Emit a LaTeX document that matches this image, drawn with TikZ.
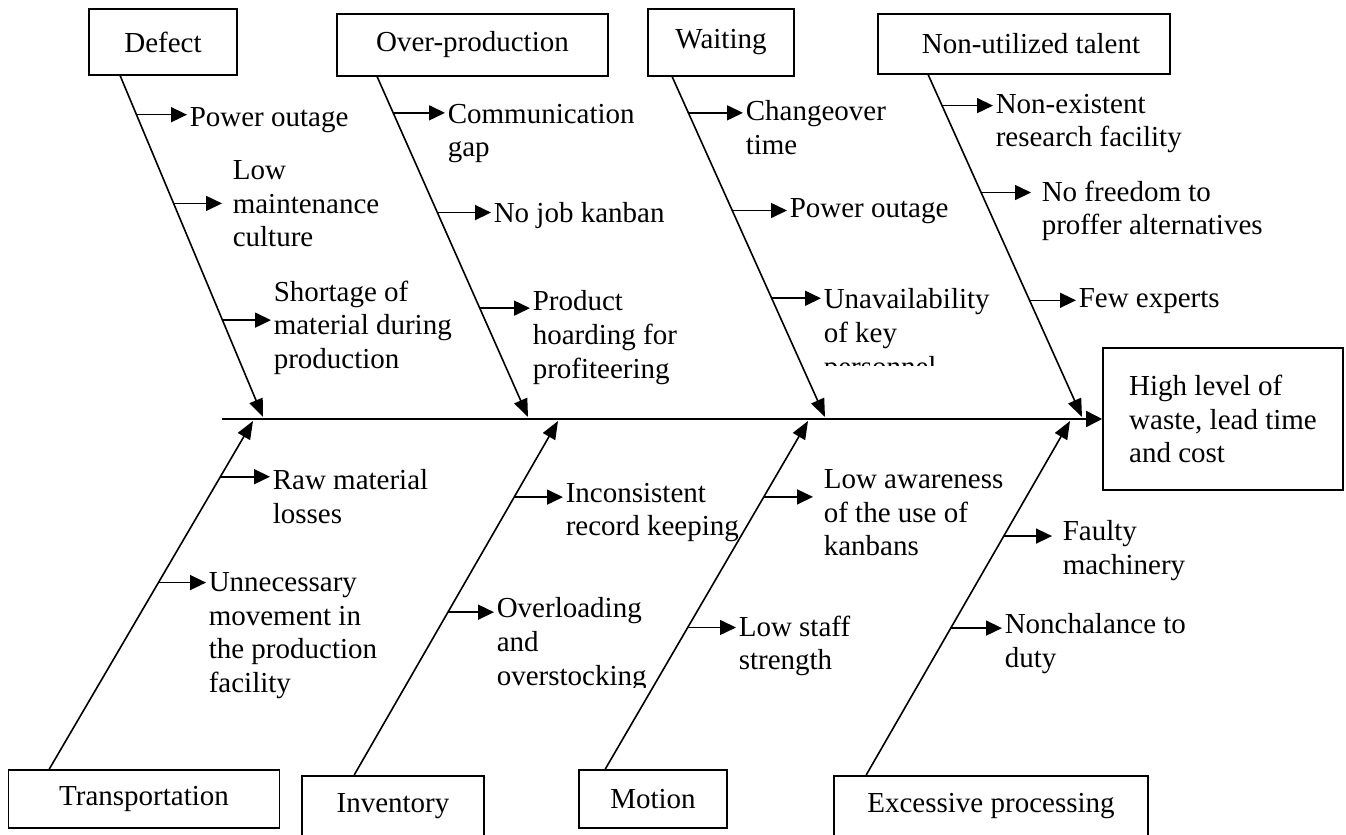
\documentclass[tikz,border=0pt]{standalone}
\usepackage{fontspec}
\setmainfont{Liberation Serif}
\usetikzlibrary{arrows.meta,calc}
\newcommand{\fishfont}{\fontsize{14.5}{16.8}\selectfont}

\begin{document}
\begin{tikzpicture}[x=0.5pt,y=-0.5pt,line width=0.8pt,>={Triangle[length=8pt,width=7.5pt]}]
	\clip (0,0) rectangle (1346,835);
	\begin{scope}
	\tikzstyle{every node}=[font=\fishfont]
	\tikzstyle{box}=[draw,inner sep=0pt]
	\tikzstyle{lab}=[anchor=north west,align=left,inner sep=1pt]
	\tikzstyle{bone}=[-{Triangle[length=9pt,width=7pt]}]
	% categories and effect
	\node[box,minimum width=74pt,minimum height=33pt] (Defect) at (163,42) {Defect};
	\node[box,minimum width=135.5pt,minimum height=31pt] (Over) at (472.5,45) {Over-production};
	\node[box,minimum width=73pt,minimum height=33.5pt] (Wait) at (721,42.5) {Waiting};
	\node[box,minimum width=146pt,minimum height=30pt] (Talent) at (1024,44) {\hspace{7pt}Non-utilized talent};
	\node[box,minimum width=120pt,minimum height=71pt,align=left] (Effect) at (1223,419) {High level of\\waste, lead time\\and cost};
	\node[box,minimum width=135.5pt,minimum height=29pt] (Trans) at (144,799) {Transportation};
	\node[box,minimum width=91pt,text height=18.5pt,text depth=22pt,anchor=north] (Inv) at (393,775) {Inventory};
	\node[box,minimum width=74pt,minimum height=29pt] (Motion) at (653,799) {Motion};
	\node[box,minimum width=157pt,text height=18.5pt,text depth=22pt,anchor=north] (Exc) at (991,775) {Excessive processing};
	% causes
	\node[lab] (D_1) at (187,105) {Power outage};
	\node[lab,inner xsep=5pt] (D_2) at (222,158) {Low\\maintenance\\culture};
	\node[lab] (D_3) at (271,278) {Shortage of\\material during\\production};
	\node[lab] (O_1) at (445,101) {Communication\\gap};
	\node[lab] (O_2) at (491,200) {No job kanban};
	\node[lab] (O_3) at (530,288) {Product\\hoarding for\\profiteering};
	\node[lab] (W_1) at (743,98) {Changeover\\time};
	\node[lab] (W_2) at (787,196) {Power outage};
	\begin{scope}
	\clip (700,250) rectangle (1000,365);
	\node[lab] (W_3) at (821,286) {Unavailability\\of key\\personnel};
	\end{scope}
	\node[lab] (N_1) at (993,91) {Non-existent\\research facility};
	\node[lab,inner xsep=5pt] (N_2) at (1031,178) {No freedom to\\proffer alternatives};
	\node[lab] (N_3) at (1076,286) {Few experts};
	\node[lab] (T_1) at (270,467) {Raw material\\losses};
	\node[lab] (T_2) at (206,570) {Unnecessary\\movement in\\the production\\facility};
	\node[lab] (I_1) at (563,480) {Inconsistent\\record keeping};
	\begin{scope}
	\clip (450,560) rectangle (700,687);
	\node[lab] (I_2) at (494,595) {Overloading\\and\\overstocking};
	\end{scope}
	\node[lab,inner xsep=5pt] (M_1) at (813,467) {Low awareness\\of the use of\\kanbans};
	\node[lab] (M_2) at (736,613) {Low staff\\strength};
	\node[lab,inner xsep=5pt] (E_1) at (1052,518) {Faulty\\machinery};
	\node[lab] (E_2) at (1002,611) {Nonchalance to\\duty};
	% spine
	\coordinate (tail) at (222,419);
	\draw[-{Triangle[length=8pt,width=8pt]}] (tail) -- (Effect.west);
	% bones
	\coordinate (d_0) at ($(Defect.south west)+(32,0)$);
	\coordinate (o_0) at ($(Over.south west)+(41,0)$);
	\coordinate (w_0) at ($(Wait.south west)+(25,0)$);
	\coordinate (n_0) at ($(Talent.south west)+(51,0)$);
	\coordinate (t_0) at ($(Trans.north west)+(41.5,0)$);
	\coordinate (i_0) at ($(Inv.north west)+(53,0)$);
	\coordinate (m_0) at ($(Motion.north west)+(27,0)$);
	\coordinate (e_0) at ($(Exc.north west)+(33,0)$);
	\coordinate (Dtip) at (263,417);
	\coordinate (Otip) at (528,417);
	\coordinate (Wtip) at (825,417);
	\coordinate (Ntip) at (1082,417);
	\coordinate (Ttip) at (253,421);
	\coordinate (Itip) at (558,421);
	\coordinate (Mtip) at (808,421);
	\coordinate (Etip) at (1070,421);
	\draw[bone] (d_0) -- (Dtip);
	\draw[bone] (o_0) -- (Otip);
	\draw[bone] (w_0) -- (Wtip);
	\draw[bone] (n_0) -- (Ntip);
	\draw[bone] (t_0) -- (Ttip);
	\draw[bone] (i_0) -- (Itip);
	\draw[bone] (m_0) -- (Mtip);
	\draw[bone] (e_0) -- (Etip);
	% cause arrows
	\draw[->] ($(d_0)!0.114!(Dtip)$) coordinate (d_1) -- (d_1 -| D_1.west);
	\draw[->] ($(d_0)!0.374!(Dtip)$) coordinate (d_2) -- (d_2 -| D_2.west);
	\draw[->] ($(d_0)!0.716!(Dtip)$) coordinate (d_3) -- (d_3 -| D_3.west);
	\draw[->] ($(o_0)!0.106!(Otip)$) coordinate (o_1) -- (o_1 -| O_1.west);
	\draw[->] ($(o_0)!0.399!(Otip)$) coordinate (o_2) -- (o_2 -| O_2.west);
	\draw[->] ($(o_0)!0.680!(Otip)$) coordinate (o_3) -- (o_3 -| O_3.west);
	\draw[->] ($(w_0)!0.106!(Wtip)$) coordinate (w_1) -- (w_1 -| W_1.west);
	\draw[->] ($(w_0)!0.393!(Wtip)$) coordinate (w_2) -- (w_2 -| W_2.west);
	\draw[->] ($(w_0)!0.651!(Wtip)$) coordinate (w_3) -- (w_3 -| W_3.west);
	\draw[->] ($(n_0)!0.090!(Ntip)$) coordinate (n_1) -- (n_1 -| N_1.west);
	\draw[->] ($(n_0)!0.344!(Ntip)$) coordinate (n_2) -- (n_2 -| N_2.west);
	\draw[->] ($(n_0)!0.659!(Ntip)$) coordinate (n_3) -- (n_3 -| N_3.west);
	\draw[->] ($(t_0)!0.840!(Ttip)$) coordinate (t_1) -- (t_1 -| T_1.west);
	\draw[->] ($(t_0)!0.536!(Ttip)$) coordinate (t_2) -- (t_2 -| T_2.west);
	\draw[->] ($(i_0)!0.785!(Itip)$) coordinate (i_1) -- (i_1 -| I_1.west);
	\draw[->] ($(i_0)!0.460!(Itip)$) coordinate (i_2) -- (i_2 -| I_2.west);
	\draw[->] ($(m_0)!0.782!(Mtip)$) coordinate (m_1) -- (m_1 -| M_1.west);
	\draw[->] ($(m_0)!0.407!(Mtip)$) coordinate (m_2) -- (m_2 -| M_2.west);
	\draw[->] ($(e_0)!0.675!(Etip)$) coordinate (e_1) -- (e_1 -| E_1.west);
	\draw[->] ($(e_0)!0.415!(Etip)$) coordinate (e_2) -- (e_2 -| E_2.west);
	\end{scope}
\end{tikzpicture}
\end{document}
